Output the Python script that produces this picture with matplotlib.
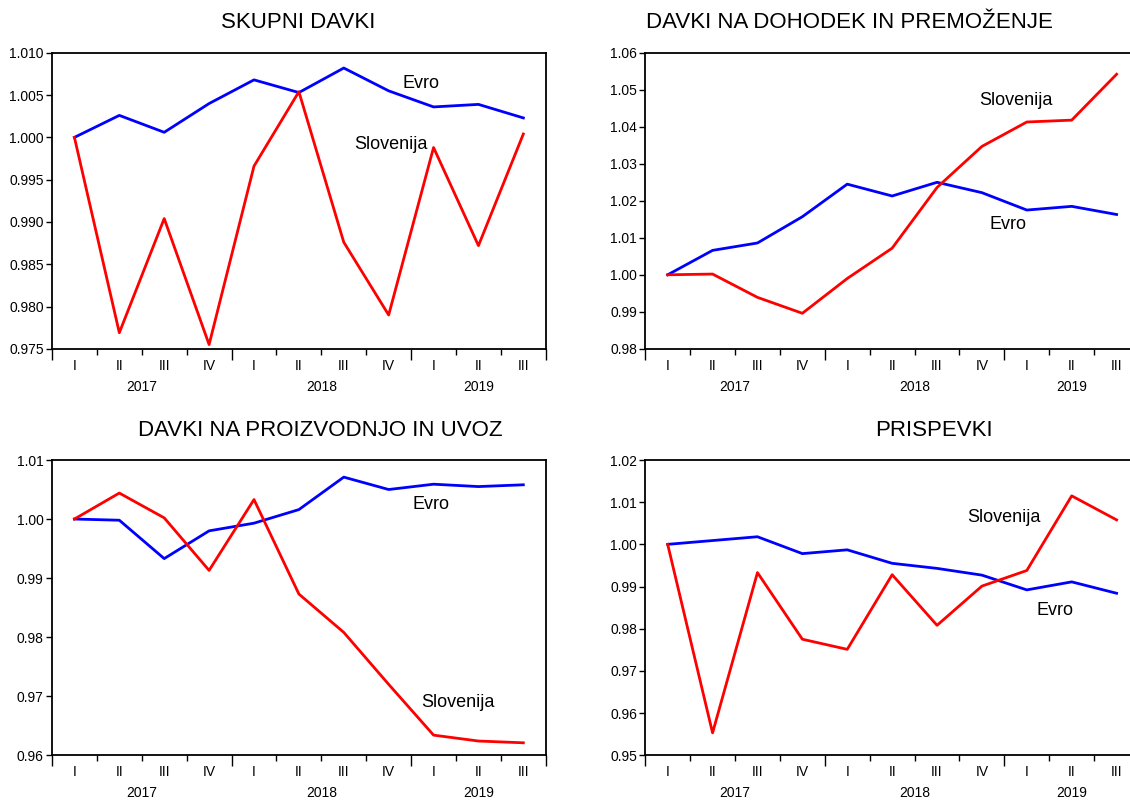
import matplotlib.pyplot as plt
from matplotlib.ticker import FixedLocator, FormatStrFormatter

plt.rcParams['font.family'] = ['Liberation Sans', 'DejaVu Sans']

# --- data ---
quarters = ['I', 'II', 'III', 'IV', 'I', 'II', 'III', 'IV', 'I', 'II', 'III']
years = ['2017', '2018', '2019']
year_pos = [1.5, 5.5, 9.0]

titles = ['SKUPNI DAVKI', 'DAVKI NA DOHODEK IN PREMOŽENJE',
          'DAVKI NA PROIZVODNJO IN UVOZ', 'PRISPEVKI']

evro_skupni = [1.0000, 1.0026, 1.0006, 1.0040, 1.0068, 1.0053, 1.0082, 1.0055, 1.0036, 1.0039, 1.0023]
slo_skupni = [1.0000, 0.9769, 0.9904, 0.9755, 0.9966, 1.0054, 0.9876, 0.9790, 0.9988, 0.9872, 1.0004]

evro_dohodek = [1.0000, 1.0066, 1.0086, 1.0157, 1.0245, 1.0213, 1.0250, 1.0222, 1.0175, 1.0185, 1.0163]
slo_dohodek = [1.0000, 1.0002, 0.9939, 0.9896, 0.9990, 1.0072, 1.0236, 1.0347, 1.0413, 1.0418, 1.0542]

evro_proizv = [1.0000, 0.9998, 0.9933, 0.9980, 0.9993, 1.0016, 1.0071, 1.0050, 1.0059, 1.0055, 1.0058]
slo_proizv = [1.0000, 1.0044, 1.0002, 0.9913, 1.0033, 0.9873, 0.9808, 0.9720, 0.9634, 0.9624, 0.9621]

evro_prisp = [1.0000, 1.0009, 1.0018, 0.9978, 0.9987, 0.9955, 0.9943, 0.9927, 0.9892, 0.9911, 0.9884]
slo_prisp = [1.0000, 0.9553, 0.9933, 0.9775, 0.9751, 0.9928, 0.9808, 0.9901, 0.9938, 1.0115, 1.0058]

# y limits, tick step, label format
ylims = [(0.975, 1.010), (0.98, 1.06), (0.96, 1.01), (0.95, 1.02)]
ysteps = [0.005, 0.01, 0.01, 0.01]
yfmts = ['%.3f', '%.2f', '%.2f', '%.2f']

# label positions (x index, y value)
evro_lbl = [(7.73, 1.0064), (7.58, 1.0137), (7.94, 1.0025), (8.62, 0.9842)]
slo_lbl = [(7.06, 0.9992), (7.75, 1.0470), (8.54, 0.9689), (7.50, 1.0063)]

series = [(evro_skupni, slo_skupni), (evro_dohodek, slo_dohodek),
          (evro_proizv, slo_proizv), (evro_prisp, slo_prisp)]

# axes rectangles in figure fraction
rects = [[0.046, 0.564, 0.437, 0.370],
         [0.571, 0.564, 0.437, 0.370],
         [0.046, 0.056, 0.437, 0.369],
         [0.571, 0.056, 0.437, 0.369]]
title_xy = [(298, 23), (849, 23), (320, 430), (934, 431)]

fig = plt.figure(figsize=(11.3, 8), dpi=100)

x = list(range(len(quarters)))
for i in range(4):
    ax = fig.add_axes(rects[i])
    ev, sl = series[i]
    ax.plot(x, ev, color='#0000FF', lw=2.0)
    ax.plot(x, sl, color='#FF0000', lw=2.0)

    ax.set_xlim(-0.5, 10.5)
    lo, hi = ylims[i]
    ax.set_ylim(lo, hi)
    n = int(round((hi - lo) / ysteps[i]))
    ax.yaxis.set_major_locator(FixedLocator([lo + k * ysteps[i] for k in range(n + 1)]))
    ax.yaxis.set_major_formatter(FormatStrFormatter(yfmts[i]))
    ax.tick_params(axis='y', direction='out', length=4, width=1, labelsize=10, pad=2)

    # year boundary ticks long, quarter ticks short
    ax.xaxis.set_major_locator(FixedLocator([-0.5, 3.5, 7.5, 10.5]))
    ax.xaxis.set_minor_locator(FixedLocator([0.5, 1.5, 2.5, 4.5, 5.5, 6.5, 8.5, 9.5]))
    ax.tick_params(axis='x', which='major', direction='out', length=8, width=1, labelbottom=False)
    ax.tick_params(axis='x', which='minor', direction='out', length=4.5, width=1)

    tr = ax.get_xaxis_transform()
    for j, q in enumerate(quarters):
        ax.annotate(q, (j, 0), xycoords=tr, xytext=(0, -17), textcoords='offset pixels',
                    ha='center', va='center', fontsize=10)
    for yr, p in zip(years, year_pos):
        ax.annotate(yr, (p, 0), xycoords=tr, xytext=(0, -38), textcoords='offset pixels',
                    ha='center', va='center', fontsize=10)

    for s in ax.spines.values():
        s.set_linewidth(1.3)

    ax.text(evro_lbl[i][0], evro_lbl[i][1], 'Evro', ha='center', va='center', fontsize=13)
    ax.text(slo_lbl[i][0], slo_lbl[i][1], 'Slovenija', ha='center', va='center', fontsize=13)

    tx, ty = title_xy[i]
    fig.text(tx / 1130, 1 - ty / 800, titles[i], ha='center', va='center', fontsize=16)

fig.savefig('out.png', dpi=100)
